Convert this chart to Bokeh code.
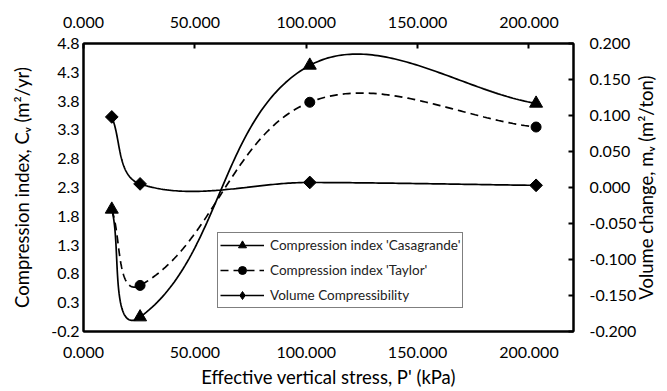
import numpy as np
from bokeh.plotting import figure
from bokeh.models import (Range1d, LinearAxis, FixedTicker, NumeralTickFormatter,
                          Legend, LegendItem, ColumnDataSource)
from bokeh.embed import file_html
from bokeh.resources import INLINE

# ---- data ----
stress = [12.7, 25.4, 101.6, 203.2]
cv_casagrande = [1.92, 0.05, 4.42, 3.76]
cv_taylor = [1.91, 0.60, 3.78, 3.35]
mv_volume = [0.098, 0.005, 0.007, 0.003]

x_ticks = [0, 50, 100, 150, 200]
y_left_ticks = [-0.2, 0.3, 0.8, 1.3, 1.8, 2.3, 2.8, 3.3, 3.8, 4.3, 4.8]
y_right_ticks = [-0.2, -0.15, -0.1, -0.05, 0.0, 0.05, 0.1, 0.15, 0.2]

x_title = "Effective vertical stress, P' (kPa)"
y_left_title = "Compression index, C\u1d65 (m\u00b2/yr)"
y_right_title = "Volume change, m\u1d65 (m\u00b2/ton)"

X_RANGE = (0, 220)
YL_RANGE = (-0.2, 4.8)
YR_RANGE = (-0.2, 0.2)

FONT = "Lato"
FW, FH = 490, 288

SX = FW / (X_RANGE[1] - X_RANGE[0])
SYL = FH / (YL_RANGE[1] - YL_RANGE[0])
SYR = FH / (YR_RANGE[1] - YR_RANGE[0])


def smooth(xs, ys, sx, sy, n=80):
    P = np.column_stack([np.asarray(xs, float) * sx, np.asarray(ys, float) * sy])
    N = len(P)
    T = []
    for i in range(N):
        if i == 0:
            d = P[1] - P[0]
        elif i == N - 1:
            d = P[-1] - P[-2]
        else:
            d = P[i + 1] - P[i - 1]
        T.append(d / np.linalg.norm(d))
    out = []
    for i in range(N - 1):
        L = np.linalg.norm(P[i + 1] - P[i]) / 3.0
        c1 = P[i] + T[i] * L
        c2 = P[i + 1] - T[i + 1] * L
        t = np.linspace(0, 1, n)[:, None]
        if i > 0:
            t = t[1:]
        B = ((1 - t) ** 3) * P[i] + 3 * ((1 - t) ** 2) * t * c1 + 3 * (1 - t) * t ** 2 * c2 + t ** 3 * P[i + 1]
        out.append(B)
    B = np.vstack(out)
    return B[:, 0] / sx, B[:, 1] / sy


p = figure(frame_width=FW, frame_height=FH, output_backend="svg", toolbar_location=None,
           x_range=Range1d(*X_RANGE), y_range=Range1d(*YL_RANGE),
           x_axis_location=None, y_axis_location=None,
           min_border_left=83, min_border_right=94, min_border_top=43, min_border_bottom=60)
p.extra_y_ranges = {"vol": Range1d(*YR_RANGE)}
p.grid.visible = False
p.outline_line_color = "black"
p.outline_line_width = 2
p.background_fill_color = "white"
p.border_fill_color = "white"


def style_axis(ax, ticks, fmt, tick_in, standoff, label="", label_standoff=5):
    ax.ticker = FixedTicker(ticks=ticks)
    ax.formatter = NumeralTickFormatter(format=fmt)
    ax.major_tick_in = tick_in
    ax.major_tick_out = 0
    ax.minor_tick_in = 0
    ax.minor_tick_out = 0
    ax.major_tick_line_color = "black"
    ax.major_tick_line_width = 2
    ax.axis_line_color = "black"
    ax.axis_line_width = 2
    ax.major_label_standoff = standoff
    ax.major_label_text_font = FONT
    ax.major_label_text_font_size = "16px"
    ax.major_label_text_color = "black"
    ax.axis_label = label
    ax.axis_label_text_font = FONT
    ax.axis_label_text_font_size = "18.5px"
    ax.axis_label_text_font_style = "normal"
    ax.axis_label_text_color = "black"
    ax.axis_label_standoff = label_standoff


bottom = LinearAxis()
style_axis(bottom, x_ticks, "0.000", 0, 15, x_title, 5)
p.add_layout(bottom, "below")

top = LinearAxis()
style_axis(top, x_ticks, "0.000", 5, 16)
p.add_layout(top, "above")

left = LinearAxis()
style_axis(left, y_left_ticks, "0.0", 0, 4, y_left_title, 15)
p.add_layout(left, "left")

right = LinearAxis(y_range_name="vol")
style_axis(right, y_right_ticks, "0.000", 5, 16, "", 7)
p.add_layout(right, "right")
try:
    # anchor the label at the bottom of the axis and read it bottom-to-top
    right.axis_label_align = "start"
    right.axis_label_orientation = np.pi / 2
    right.axis_label = "\u2002\u2002\u2002\u00a0" + y_right_title
except AttributeError:
    right.axis_label = y_right_title

# curves
xc, yc = smooth(stress, cv_casagrande, SX, SYL)
xt, yt = smooth(stress, cv_taylor, SX, SYL)
xv, yv = smooth(stress, mv_volume, SX, SYR)

l_cas = p.line(xc, yc, line_color="black", line_width=1.7)
l_tay = p.line(xt, yt, line_color="black", line_width=1.7, line_dash="8 5")
l_vol = p.line(xv, yv, line_color="black", line_width=1.7, y_range_name="vol")

m_cas = p.scatter(stress, cv_casagrande, marker="triangle", size=13, fill_color="black", line_color="black")
m_tay = p.scatter(stress[1:], cv_taylor[1:], marker="circle", size=10, fill_color="black", line_color="black")
vol_src = ColumnDataSource(dict(x=stress, y=mv_volume, a=[np.pi / 4] * len(stress)))
m_vol = p.scatter("x", "y", source=vol_src, marker="square", angle="a", size=9, fill_color="black",
                  line_color="black", y_range_name="vol")
# legend-only diamond (legend glyphs ignore marker rotation)
m_vol_leg = p.scatter(stress, mv_volume, marker="diamond", size=13, fill_color="black",
                      line_color="black", y_range_name="vol", visible=False)

legend = Legend(items=[
    LegendItem(label="Compression index 'Casagrande'", renderers=[l_cas, m_cas]),
    LegendItem(label="Compression index 'Taylor'", renderers=[l_tay, m_tay]),
    LegendItem(label="Volume Compressibility", renderers=[l_vol, m_vol_leg]),
], location=(134, 23))
legend.label_text_font = FONT
legend.label_text_font_size = "13.5px"
legend.label_text_color = "#222222"
legend.glyph_width = 44
legend.glyph_height = 20
legend.label_height = 20
legend.spacing = 5
legend.padding = 2
legend.margin = 0
legend.label_standoff = 6
legend.border_line_color = "black"
legend.border_line_width = 1
legend.background_fill_alpha = 1.0
p.add_layout(legend, "center")

open("out.html", "w").write(file_html(p, INLINE))
